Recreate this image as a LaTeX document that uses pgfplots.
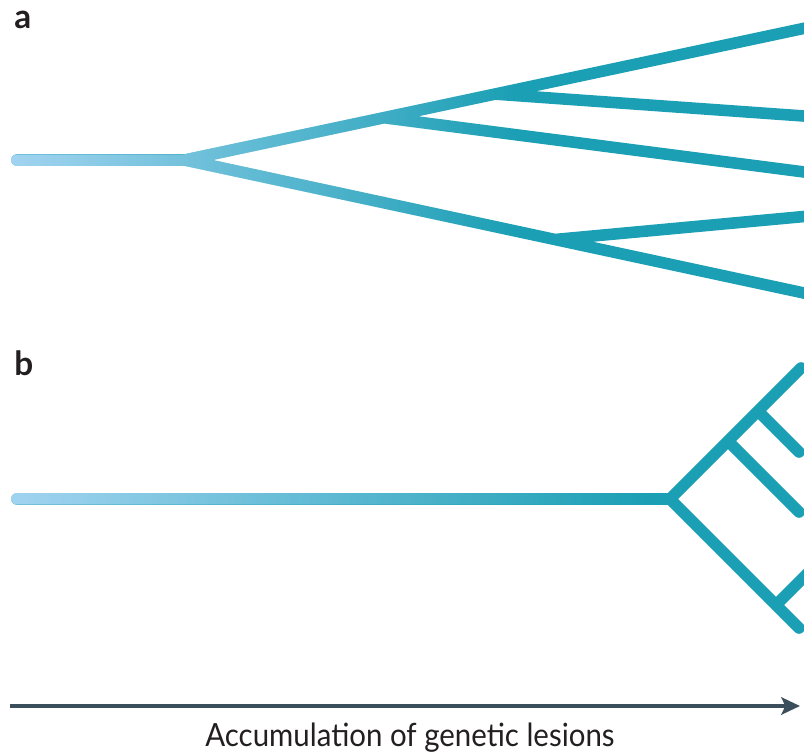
\documentclass[border=0pt]{standalone}
\usepackage{fontspec}
\setmainfont{Lato}
\newfontfamily\labfont[FakeStretch=0.92]{Lato}
\usepackage{pgfplots}
\usepackage{pgfplotstable}
\pgfplotsset{compat=1.18}
\usetikzlibrary{fadings,arrows.meta}
\definecolor{teal1}{HTML}{1A9FB4}
\definecolor{light1}{HTML}{A2D4F1}
\definecolor{arrowc}{HTML}{3B4E5B}
\definecolor{txt}{HTML}{231F20}

\pgfdeclarehorizontalshading{fadeashade}{100bp}{color(0bp)=(white); color(25bp)=(white); color(56.5bp)=(black); color(100bp)=(black)}
\pgfdeclarehorizontalshading{fadebshade}{100bp}{color(0bp)=(white); color(25bp)=(white); color(64.7bp)=(black); color(100bp)=(black)}
\tikzfading[name=fadea, shading=fadeashade]
\tikzfading[name=fadeb, shading=fadebshade]

% tree a (pixel coordinates, y downwards)
\pgfplotstableread{
x y
17 160
185 160
815 26
nan nan
185 160
815 295.4
nan nan
384 117.7
815 173.4
nan nan
495 94.1
815 116.8
nan nan
555 239.5
815 215.5
}\treeA

% tree b
\pgfplotstableread{
x y
17 499
670 499
801 368
nan nan
670 499
799 628
nan nan
728 441
799 512
nan nan
758 411
799 452
nan nan
776 605
815 566
}\treeB

\begin{document}
\begin{tikzpicture}
\useasboundingbox (0,0) rectangle (603pt,567pt);
\begin{axis}[
  at={(0,0)}, anchor=south west,
  width=603pt, height=567pt, scale only axis,
  xmin=0, xmax=804, ymin=0, ymax=756, y dir=reverse,
  hide axis, clip=true, unbounded coords=jump,
]
\addplot[teal1, line width=8.7pt, line cap=round, line join=round] table {\treeA};
\addplot[light1, line width=8.7pt, line cap=round, line join=round, path fading=fadea] table {\treeA};
\addplot[teal1, line width=8.7pt, line cap=round, line join=round] table {\treeB};
\addplot[light1, line width=8.7pt, line cap=round, line join=round, path fading=fadeb] table {\treeB};
\addplot[arrowc, line width=3pt, -{Stealth[length=14pt,width=13pt,inset=3pt]}] coordinates {(10,706) (800,706)};
\node[anchor=base west, inner sep=0pt, text=txt, font=\bfseries\fontsize{25}{28}\selectfont] at (axis cs:14,29) {a};
\node[anchor=base west, inner sep=0pt, text=txt, font=\bfseries\fontsize{25}{28}\selectfont] at (axis cs:14,375) {b};
\node[anchor=base, inner sep=0pt, text=txt, font=\labfont\fontsize{24}{27}\selectfont] at (axis cs:410,746) {Accumulation of genetic lesions};
\end{axis}
\end{tikzpicture}
\end{document}
